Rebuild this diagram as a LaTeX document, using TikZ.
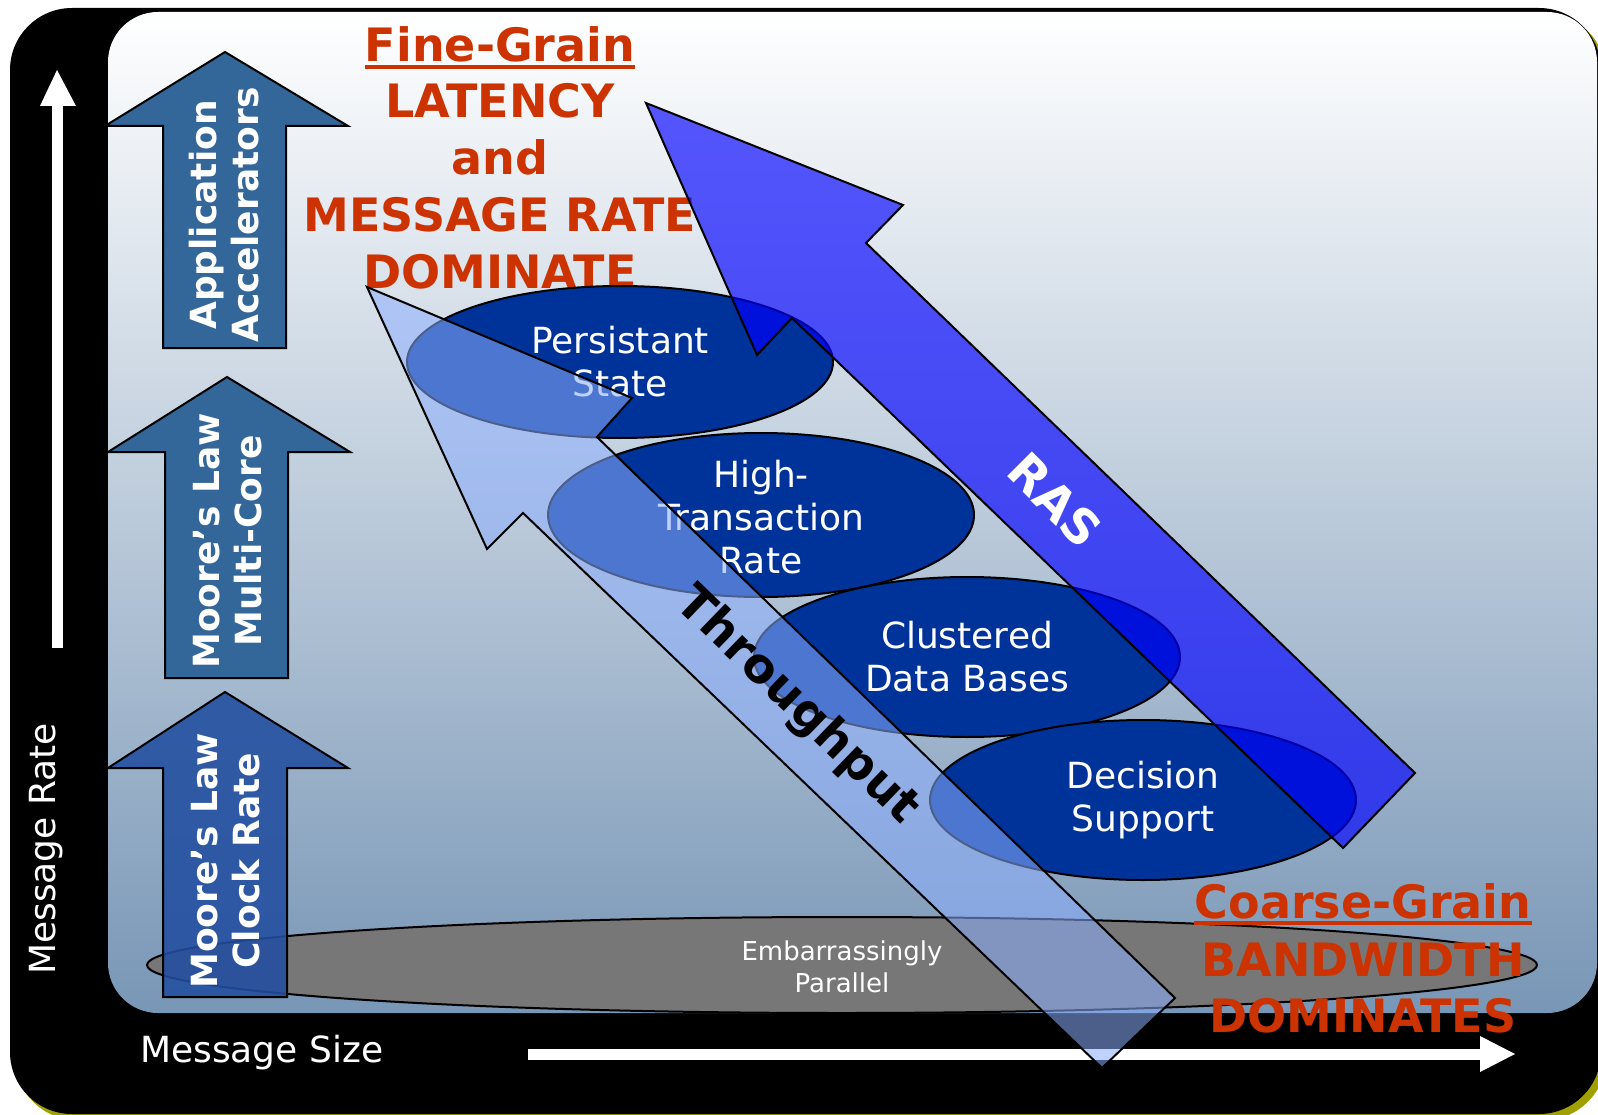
\documentclass[tikz,border=0pt]{standalone}
\usepackage{fontspec}
\setmainfont{DejaVu Sans}
\usetikzlibrary{calc}
\definecolor{steel}{RGB}{120,150,182}
\definecolor{panelmid}{RGB}{214,220,230}
\definecolor{blockblue}{RGB}{51,102,153}
\definecolor{clockblue}{RGB}{34,78,160}
\definecolor{ellblue}{RGB}{0,51,153}
\definecolor{titlered}{RGB}{204,51,0}
\definecolor{olivegl}{RGB}{160,160,0}
\definecolor{tpblue}{RGB}{140,174,254}
\definecolor{rasblue}{RGB}{0,0,255}
\definecolor{embgray}{RGB}{119,119,119}
\begin{document}
\begin{tikzpicture}[x=1pt,y=-1pt,
  blockarrow/.style={draw=black, line width=2pt, fill=blockblue, line join=miter},
  blocktext/.style={text=white, font=\bfseries\fontsize{36}{42}\selectfont, align=center, rotate=90, inner sep=0pt},
  titletext/.style={text=titlered, font=\bfseries\fontsize{46}{56}\selectfont, inner sep=0pt, anchor=base},
  axislabel/.style={text=white, font=\fontsize{36}{42}\selectfont, inner sep=0pt},
  blueell/.style={draw=black, line width=2pt, fill=ellblue},
  elltext/.style={text=white, font=\fontsize{36}{43}\selectfont, align=center, inner sep=0pt},
  embtext/.style={text=white, font=\fontsize{26}{32}\selectfont, align=center, inner sep=0pt},
  bigarrow/.style={draw=black, line width=2pt, line join=miter},
  arrowtext/.style={font=\bfseries\fontsize{48}{56}\selectfont, inner sep=0pt}
]
\useasboundingbox (0,0) rectangle (1598,1115);
\clip (0,0) rectangle (1598,1115);
\fill[white] (0,0) rectangle (1598,1115);
% frame
\fill[olivegl, rounded corners=62] (15,13) rectangle (1606,1120);
\fill[black, rounded corners=62] (10,8) rectangle (1601,1114);
\shade[top color=white, middle color=panelmid, bottom color=steel, rounded corners=50] (108,12) rectangle (1597,1013);
% axes
\fill[white] (52,105) rectangle (63,648);
\fill[white] (40,106) -- (57,70) -- (76,106) -- cycle;
\fill[white] (528,1049) rectangle (1482,1060);
\fill[white] (1480,1036) -- (1515,1054) -- (1480,1072) -- cycle;
\node[axislabel, anchor=base west] (msize) at (140,1062) {Message Size};
\node[axislabel, rotate=90, anchor=base west] (mrate) at (55,975) {Message Rate};
% fine grain title
\node[titletext] (fine) at (500,62) {Fine-Grain};
\draw[titlered, line width=3.5pt] ($(fine.base west)+(0,5)$) -- ($(fine.base east)+(0,5)$);
\node[titletext] (lat) at (500,118) {LATENCY};
\node[titletext] (and) at (500,175) {and};
\node[titletext] (msgrate) at (500,232) {MESSAGE RATE};
\node[titletext] (dom) at (500,289) {DOMINATE};
% embarrassingly parallel
\draw[line width=2pt, fill=embgray] (842,965) ellipse [x radius=695, y radius=48];
\node[embtext] (emb) at (842,967) {Embarrassingly\\Parallel};
% block arrows
\draw[blockarrow] (163,348) -- (163,126) -- (105,126) -- (225,52) -- (348,126) -- (286,126) -- (286,348) -- cycle;
\node[blocktext] (appacc) at (224,215) {Application\\Accelerators};
\draw[blockarrow] (165,678) -- (165,452) -- (108,452) -- (227,377) -- (350,452) -- (288,452) -- (288,678) -- cycle;
\node[blocktext] (multicore) at (228,541) {Moore’s Law\\Multi-Core};
\draw[blockarrow, fill=clockblue, fill opacity=0.88] (163,997) -- (163,768) -- (108,768) -- (225,692) -- (348,768) -- (287,768) -- (287,997) -- cycle;
\node[blocktext] (clock) at (226,861) {Moore’s Law\\Clock Rate};
% blue ellipses
\draw[blueell] (620,362) ellipse [x radius=213, y radius=76];
\node[elltext] (pers) at (620,362) {Persistant\\State};
\draw[blueell] (761,515) ellipse [x radius=213, y radius=82];
\node[elltext] (htr) at (761,517) {High-\\Transaction\\Rate};
\draw[blueell] (967,657) ellipse [x radius=213, y radius=80];
\node[elltext] (cdb) at (967,657) {Clustered\\Data Bases};
\draw[blueell] (1143,800) ellipse [x radius=213, y radius=80];
\node[elltext] (ds) at (1143,800) {Decision\\Support};
% throughput arrow
\draw[bigarrow, fill=tpblue, fill opacity=0.55] (367,287) -- (632,398) -- (597,437) -- (1175,998) -- (1102,1068) -- (523,513) -- (487,549) -- cycle;
\node[arrowtext, rotate=-44, text=black] (thr) at (797,706) {Throughput};
% RAS arrow
\draw[bigarrow, fill=rasblue, fill opacity=0.65] (646,103) -- (903,205) -- (866,243) -- (1415,773) -- (1343,848) -- (792,318) -- (757,355) -- cycle;
\node[arrowtext, rotate=-45, text=white] (ras) at (1055,500) {RAS};
% coarse grain
\node[titletext] (coarse) at (1363,918) {Coarse-Grain};
\draw[titlered, line width=3.5pt] ($(coarse.base west)+(0,5)$) -- ($(coarse.base east)+(0,5)$);
\node[titletext] (bw) at (1363,976) {BANDWIDTH};
\node[titletext] (doms) at (1363,1032) {DOMINATES};
\end{tikzpicture}
\end{document}
